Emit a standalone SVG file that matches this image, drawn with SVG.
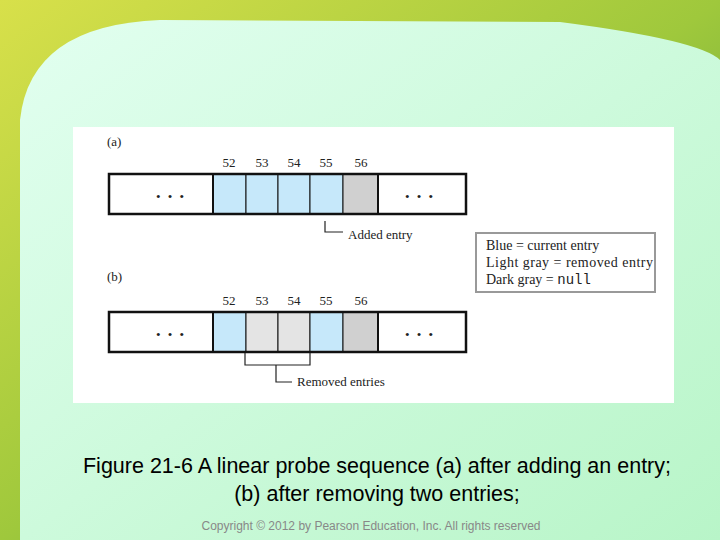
<svg xmlns="http://www.w3.org/2000/svg" width="720" height="540" viewBox="0 0 720 540">
<defs>
<linearGradient id="bg" x1="0" y1="0" x2="1" y2="1"><stop offset="0" stop-color="#d8e04a"/><stop offset="0.5" stop-color="#9fc83c"/><stop offset="1" stop-color="#3f8f3a"/></linearGradient>
<linearGradient id="mint" x1="0" y1="0" x2="1" y2="1"><stop offset="0" stop-color="#e2fff0"/><stop offset="1" stop-color="#b8f5c8"/></linearGradient>
</defs>
<style>
.t{font-family:"Liberation Serif",serif;font-size:13px;fill:#222}
.lgd{font-size:14px}
.c{stroke:#111;stroke-width:1;}
.o{fill:none;stroke:#111;stroke-width:2.5}
.b{fill:#c6e8fa}.lg{fill:#e4e4e4}.dg{fill:#d0d0d0}
.ln{fill:none;stroke:#222;stroke-width:1.2}
.cap{font-family:"Liberation Sans",Arial,sans-serif;font-size:21.5px;fill:#000;text-anchor:middle}
</style>
<rect width="720" height="540" fill="url(#bg)"/>
<path d="M20,540 L20,120 Q30,25 160,20 L560,22 Q700,40 720,60 L720,540 Z" fill="url(#mint)"/>
<rect x="73" y="127" width="601" height="276" fill="#fff"/>
<g id="label-a"><text class="t" x="107" y="146">(a)</text></g>
<g id="row-a">
<rect class="b c" x="213" y="174" width="33" height="40"/>
<rect class="b c" x="246" y="174" width="32" height="40"/>
<rect class="b c" x="278" y="174" width="32" height="40"/>
<rect class="b c" x="310" y="174" width="33" height="40"/>
<rect class="dg c" x="343" y="174" width="35" height="40"/>
<rect class="o" x="109" y="174" width="357" height="40"/>
<line x1="213" y1="174" x2="213" y2="214" stroke="#111" stroke-width="2"/>
<line x1="378" y1="174" x2="378" y2="214" stroke="#111" stroke-width="2"/>
<text class="t" x="171" y="201" text-anchor="middle" font-size="20" letter-spacing="2">• • •</text>
<text class="t" x="420" y="201" text-anchor="middle" font-size="20" letter-spacing="2">• • •</text>
<text class="t" x="229" y="167" text-anchor="middle">52</text>
<text class="t" x="262" y="167" text-anchor="middle">53</text>
<text class="t" x="294" y="167" text-anchor="middle">54</text>
<text class="t" x="326" y="167" text-anchor="middle">55</text>
<text class="t" x="361" y="167" text-anchor="middle">56</text>
</g>
<g id="label-b"><text class="t" x="107" y="281">(b)</text></g>
<g id="row-b">
<rect class="b c" x="213" y="312" width="33" height="40"/>
<rect class="lg c" x="246" y="312" width="32" height="40"/>
<rect class="lg c" x="278" y="312" width="32" height="40"/>
<rect class="b c" x="310" y="312" width="33" height="40"/>
<rect class="dg c" x="343" y="312" width="35" height="40"/>
<rect class="o" x="109" y="312" width="357" height="40"/>
<line x1="213" y1="312" x2="213" y2="352" stroke="#111" stroke-width="2"/>
<line x1="378" y1="312" x2="378" y2="352" stroke="#111" stroke-width="2"/>
<text class="t" x="171" y="339" text-anchor="middle" font-size="20" letter-spacing="2">• • •</text>
<text class="t" x="420" y="339" text-anchor="middle" font-size="20" letter-spacing="2">• • •</text>
<text class="t" x="229" y="305" text-anchor="middle">52</text>
<text class="t" x="262" y="305" text-anchor="middle">53</text>
<text class="t" x="294" y="305" text-anchor="middle">54</text>
<text class="t" x="326" y="305" text-anchor="middle">55</text>
<text class="t" x="361" y="305" text-anchor="middle">56</text>
</g>
<g id="connectors">
<path class="ln" d="M325,221 V232 H343"/>
<path class="ln" d="M245,353 V365 H310 V353 M276,365 V382 H292"/>
</g>
<g id="callouts">
<text class="t" x="348" y="239">Added entry</text>
<text class="t" x="297" y="386">Removed entries</text>
</g>
<g id="legend">
<rect x="476" y="233" width="179" height="59" fill="#fff" stroke="#999" stroke-width="2"/>
<text class="t lgd" x="486" y="250">Blue = current entry</text>
<text class="t lgd" x="486" y="267" textLength="167">Light gray = removed entry</text>
<text class="t lgd" x="486" y="284">Dark gray = <tspan font-family="Liberation Mono,monospace">null</tspan></text>
</g>
<text class="cap" x="377" y="473">Figure 21-6 A linear probe sequence (a) after adding an entry;</text>
<text class="cap" x="377" y="501">(b) after removing two entries;</text>
<text x="371" y="530" text-anchor="middle" font-family="Liberation Sans,Arial,sans-serif" font-size="12" fill="#888">Copyright © 2012 by Pearson Education, Inc. All rights reserved</text>
</svg>
